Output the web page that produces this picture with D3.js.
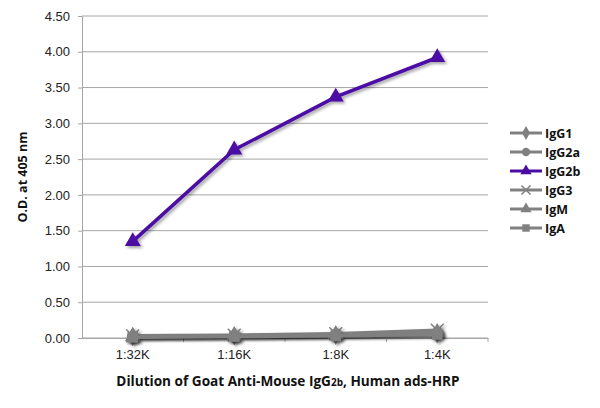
<!DOCTYPE html>
<html>
<head>
<meta charset="utf-8">
<script src="https://cdn.jsdelivr.net/npm/d3@7"></script>
<style>
  body { margin: 0; background: #fff; }
  svg { font-family: "Open Sans", "Noto Sans", sans-serif; }
</style>
</head>
<body>
<svg id="chart" width="600" height="408"></svg>
<script>
// dilutions and optical densities
const dilutions = ["1:32K", "1:16K", "1:8K", "1:4K"];
const igG1 = [0.02, 0.03, 0.04, 0.06];
const igG2a = [0.02, 0.03, 0.05, 0.07];
const igG2b = [1.35, 2.63, 3.37, 3.92];
const igG3 = [0.03, 0.04, 0.06, 0.11];
const igM = [0.02, 0.03, 0.05, 0.08];
const igA = [0.01, 0.02, 0.03, 0.05];
const yTicks = [0, 0.5, 1, 1.5, 2, 2.5, 3, 3.5, 4, 4.5];

const series = [
  { name: "IgG1", values: igG1, color: "#808080", symbol: d3.symbolDiamond },
  { name: "IgG2a", values: igG2a, color: "#808080", symbol: d3.symbolCircle },
  { name: "IgG2b", values: igG2b, color: "#4b0ca3", symbol: d3.symbolTriangle },
  { name: "IgG3", values: igG3, color: "#808080", symbol: d3.symbolCross, x: true },
  { name: "IgM", values: igM, color: "#808080", symbol: d3.symbolTriangle },
  { name: "IgA", values: igA, color: "#808080", symbol: d3.symbolSquare }
];

const svg = d3.select("#chart");
const margin = { left: 82, right: 112, top: 16, bottom: 70 };
const width = 600, height = 408;

const defs = svg.append("defs");
defs.append("filter").attr("id", "shadow")
  .attr("x", "-20%").attr("y", "-20%").attr("width", "140%").attr("height", "140%")
  .append("feDropShadow")
  .attr("dx", 2).attr("dy", 2).attr("stdDeviation", 1.5)
  .attr("flood-color", "#000").attr("flood-opacity", 0.35);

const x = d3.scaleBand().domain(dilutions)
  .range([margin.left, width - margin.right]);
const y = d3.scaleLinear().domain([0, 4.5])
  .range([height - margin.bottom, margin.top]);

// gridlines
svg.append("g")
  .selectAll("line").data(yTicks).join("line")
  .attr("x1", margin.left).attr("x2", width - margin.right)
  .attr("y1", d => y(d)).attr("y2", d => y(d))
  .attr("stroke", "#a6a6a6").attr("stroke-width", 1);

// y axis
const yAxis = svg.append("g")
  .attr("transform", `translate(${margin.left},0)`)
  .call(d3.axisLeft(y).tickValues(yTicks).tickFormat(d3.format(".2f")).tickSize(4).tickPadding(8));
yAxis.select(".domain").attr("stroke", "#a6a6a6");
yAxis.selectAll(".tick line").attr("stroke", "#a6a6a6");
yAxis.selectAll("text").attr("font-size", 13).attr("fill", "#222");

// x axis with ticks at category boundaries
const xAxis = svg.append("g")
  .attr("transform", `translate(0,${y(0)})`)
  .call(d3.axisBottom(x).tickSize(0).tickPadding(12));
xAxis.select(".domain").attr("stroke", "#a6a6a6");
xAxis.selectAll("text").attr("font-size", 13).attr("fill", "#222");
xAxis.selectAll(".bound").data(dilutions).join("line")
  .attr("class", "bound")
  .attr("x1", d => x(d) + x.bandwidth()).attr("x2", d => x(d) + x.bandwidth())
  .attr("y1", 0).attr("y2", 4)
  .attr("stroke", "#a6a6a6");

// axis titles
svg.append("text")
  .attr("transform", `translate(27,${(y(0) + y(4.5)) / 2}) rotate(-90)`)
  .attr("text-anchor", "middle")
  .attr("font-size", 12.5).attr("font-weight", "bold").attr("fill", "#111")
  .text("O.D. at 405 nm");

const xt = svg.append("text")
  .attr("x", (margin.left + width - margin.right) / 2 + 3).attr("y", 386)
  .attr("text-anchor", "middle")
  .attr("font-size", 13.6).attr("font-weight", "bold").attr("fill", "#111");
xt.append("tspan").text("Dilution of Goat Anti-Mouse IgG");
xt.append("tspan").attr("font-size", 10).text("2b");
xt.append("tspan").text(", Human ads-HRP");

const line = d3.line()
  .x((d, i) => x(dilutions[i]) + x.bandwidth() / 2)
  .y(d => y(d));

function marker(g, s, size) {
  const p = g.append("path")
    .attr("d", d3.symbol().type(s.symbol).size(size)())
    .attr("fill", s.color);
  if (s.x) {
    p.attr("d", d3.symbol().type(d3.symbolX).size(size)())
      .attr("fill", "none").attr("stroke", s.color).attr("stroke-width", 1.5);
  }
  return p;
}

// draw grey series first, purple on top
const order = [0, 1, 3, 4, 5, 2];
order.forEach(k => {
  const s = series[k];
  const g = svg.append("g").attr("filter", "url(#shadow)");
  g.append("path")
    .datum(s.values)
    .attr("fill", "none")
    .attr("stroke", s.color)
    .attr("stroke-width", 3.5)
    .attr("d", line);
  s.values.forEach((v, i) => {
    const m = g.append("g")
      .attr("transform", `translate(${x(dilutions[i]) + x.bandwidth() / 2},${y(v)})`);
    marker(m, s, 110);
  });
});

// legend
const legend = svg.append("g").attr("transform", "translate(510,133)");
series.forEach((s, i) => {
  const row = legend.append("g").attr("transform", `translate(0,${i * 19})`);
  row.append("line").attr("x1", 0).attr("x2", 32)
    .attr("stroke", s.color).attr("stroke-width", 3);
  const m = row.append("g").attr("transform", "translate(16,0)");
  marker(m, s, 55);
  row.append("text").attr("x", 35).attr("y", 4.5)
    .attr("font-size", 12.5).attr("font-weight", "bold").attr("fill", "#111")
    .text(s.name);
});
</script>
</body>
</html>
